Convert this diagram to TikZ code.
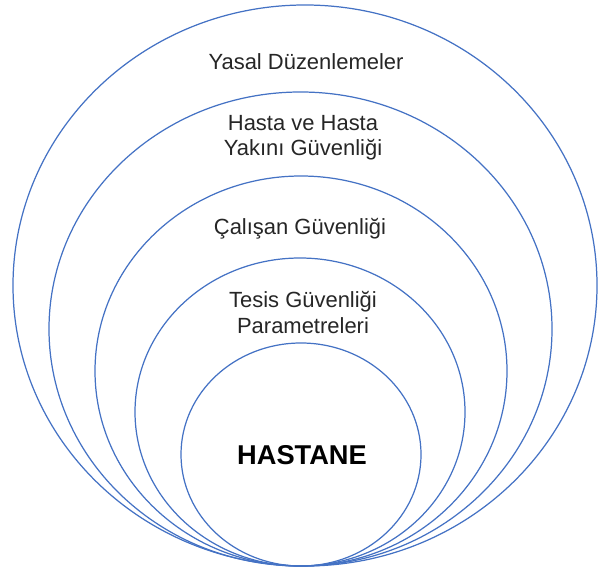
\documentclass[tikz,border=0pt]{standalone}
\usepackage{fontspec}
\setmainfont{Liberation Sans}
\usetikzlibrary{positioning}
\definecolor{RingBlue}{RGB}{68,114,196}

\begin{document}
\begin{tikzpicture}[
    ring/.style={
      draw=RingBlue,
      line width=0.7pt
    },
    label/.style={
      align=center,
      text=black!85,
      font=\fontsize{12.5}{14.4}\selectfont
    },
    core/.style={
      font=\fontsize{15.5}{18}\selectfont\bfseries
    }
  ]
    \useasboundingbox (0,0) rectangle (11.96,11.4);

    % nested rings, all touching at the bottom
    \foreach \cx/\cy/\rx/\ry in {6.10/5.69/5.84/5.61, 6.01/4.82/5.03/4.74,
                                 6.02/3.98/4.12/3.90, 6.00/3.16/3.30/3.08,
                                 6.02/2.31/2.40/2.23}
      \draw[ring] (\cx,\cy) ellipse [x radius=\rx, y radius=\ry];

    \node[label] (yasal) at (6.12,10.16) {Yasal Düzenlemeler};
    \node[label] (hasta) at (6.06,8.65) {Hasta ve Hasta\\Yakını Güvenliği};
    \node[label] (calisan) at (6.00,6.83) {Çalışan Güvenliği};
    \node[label] (tesis) at (6.06,5.15) {Tesis Güvenliği\\Parametreleri};
    \node[core] (hastane) at (6.04,2.30) {HASTANE};

  \end{tikzpicture}
\end{document}
